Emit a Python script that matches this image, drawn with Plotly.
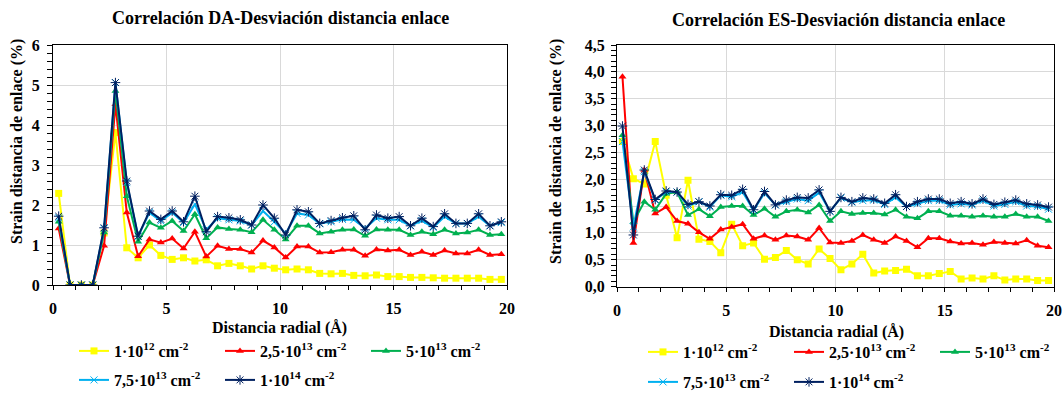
import plotly.graph_objects as go

radial = [0.25, 0.75, 1.25, 1.75, 2.25, 2.75, 3.25, 3.75, 4.25, 4.75,
          5.25, 5.75, 6.25, 6.75, 7.25, 7.75, 8.25, 8.75, 9.25, 9.75,
          10.25, 10.75, 11.25, 11.75, 12.25, 12.75, 13.25, 13.75, 14.25, 14.75,
          15.25, 15.75, 16.25, 16.75, 17.25, 17.75, 18.25, 18.75, 19.25, 19.75]

series_names = ["1·10<sup>12</sup> cm<sup>-2</sup>",
                "2,5·10<sup>13</sup> cm<sup>-2</sup>",
                "5·10<sup>13</sup> cm<sup>-2</sup>",
                "7,5·10<sup>13</sup> cm<sup>-2</sup>",
                "1·10<sup>14</sup> cm<sup>-2</sup>"]

# Left chart: Correlación DA
da_1e12 = [2.29, 0, 0, 0, 1.30, 3.81, 0.93, 0.68, 1.00, 0.74,
           0.64, 0.68, 0.60, 0.63, 0.48, 0.54, 0.48, 0.40, 0.48, 0.42,
           0.38, 0.40, 0.38, 0.29, 0.28, 0.29, 0.24, 0.23, 0.25, 0.21,
           0.21, 0.19, 0.19, 0.18, 0.17, 0.17, 0.17, 0.17, 0.14, 0.14]
da_25e13 = [1.41, 0, 0, 0, 0.98, 4.52, 1.81, 0.72, 1.14, 1.06,
            1.16, 0.91, 1.33, 0.71, 0.98, 0.90, 0.90, 0.81, 1.11, 0.94,
            0.69, 0.96, 0.96, 0.81, 0.82, 0.88, 0.88, 0.73, 0.89, 0.86,
            0.88, 0.75, 0.83, 0.75, 0.86, 0.79, 0.79, 0.88, 0.75, 0.77]
da_5e13 = [1.58, 0, 0, 0, 1.31, 4.85, 2.22, 1.08, 1.56, 1.43,
           1.60, 1.35, 1.77, 1.17, 1.44, 1.40, 1.38, 1.32, 1.63, 1.38,
           1.14, 1.48, 1.48, 1.29, 1.33, 1.38, 1.39, 1.23, 1.39, 1.38,
           1.38, 1.25, 1.33, 1.27, 1.38, 1.29, 1.31, 1.38, 1.25, 1.27]
da_75e13 = [1.68, 0, 0, 0, 1.41, 5.06, 2.56, 1.22, 1.81, 1.60,
            1.81, 1.56, 2.02, 1.38, 1.67, 1.63, 1.60, 1.50, 1.85, 1.58,
            1.29, 1.79, 1.75, 1.53, 1.58, 1.64, 1.63, 1.42, 1.67, 1.63,
            1.63, 1.48, 1.61, 1.44, 1.71, 1.54, 1.54, 1.71, 1.48, 1.56]
da_1e14 = [1.72, 0, 0, 0, 1.43, 5.06, 2.60, 1.22, 1.85, 1.64,
           1.85, 1.58, 2.22, 1.33, 1.71, 1.68, 1.63, 1.50, 2.00, 1.67,
           1.25, 1.88, 1.83, 1.54, 1.61, 1.68, 1.73, 1.38, 1.75, 1.67,
           1.71, 1.48, 1.67, 1.46, 1.78, 1.54, 1.54, 1.78, 1.48, 1.58]

# Right chart: Correlación ES
es_1e12 = [2.70, 2.01, 1.91, 2.70, 1.70, 0.91, 1.98, 0.88, 0.84, 0.63,
           1.16, 0.76, 0.81, 0.51, 0.54, 0.67, 0.50, 0.42, 0.70, 0.52,
           0.31, 0.42, 0.60, 0.25, 0.29, 0.30, 0.32, 0.20, 0.20, 0.24,
           0.28, 0.14, 0.16, 0.14, 0.20, 0.12, 0.14, 0.14, 0.11, 0.11]
es_25e13 = [3.91, 0.81, 2.17, 1.36, 1.48, 1.22, 1.17, 1.01, 0.89, 1.06,
            1.11, 1.16, 0.89, 0.95, 0.87, 0.95, 0.93, 0.87, 1.09, 0.82,
            0.81, 0.85, 0.96, 0.87, 0.81, 0.93, 0.85, 0.73, 0.90, 0.90,
            0.84, 0.80, 0.81, 0.78, 0.83, 0.81, 0.80, 0.86, 0.76, 0.73]
es_5e13 = [2.82, 1.20, 1.58, 1.43, 1.73, 1.76, 1.33, 1.44, 1.31, 1.48,
           1.50, 1.50, 1.33, 1.45, 1.30, 1.40, 1.43, 1.38, 1.52, 1.22,
           1.40, 1.35, 1.37, 1.37, 1.34, 1.43, 1.30, 1.27, 1.40, 1.40,
           1.32, 1.32, 1.30, 1.32, 1.30, 1.30, 1.35, 1.30, 1.30, 1.22]
es_75e13 = [2.70, 1.11, 2.14, 1.61, 1.76, 1.76, 1.50, 1.58, 1.48, 1.70,
            1.67, 1.76, 1.42, 1.74, 1.52, 1.58, 1.63, 1.60, 1.75, 1.40,
            1.65, 1.57, 1.60, 1.61, 1.53, 1.66, 1.49, 1.54, 1.60, 1.60,
            1.52, 1.54, 1.52, 1.60, 1.50, 1.53, 1.58, 1.50, 1.49, 1.44]
es_1e14 = [2.99, 0.96, 2.17, 1.62, 1.78, 1.76, 1.53, 1.58, 1.50, 1.71,
           1.70, 1.81, 1.43, 1.77, 1.52, 1.61, 1.66, 1.65, 1.80, 1.40,
           1.66, 1.58, 1.65, 1.63, 1.55, 1.71, 1.49, 1.58, 1.63, 1.63,
           1.55, 1.58, 1.54, 1.63, 1.53, 1.57, 1.61, 1.54, 1.52, 1.48]

left_ticks = [0, 1, 2, 3, 4, 5, 6]
right_ticks = [0.0, 0.5, 1.0, 1.5, 2.0, 2.5, 3.0, 3.5, 4.0, 4.5]
right_ticktext = ["0,0", "0,5", "1,0", "1,5", "2,0", "2,5", "3,0", "3,5", "4,0", "4,5"]
x_ticks = [0, 5, 10, 15, 20]

colors = ["#FFFF00", "#FF0000", "#00B050", "#00B0F0", "#002060"]
symbols = ["square", "triangle-up", "triangle-up", "x-thin-open", "asterisk-open"]
msizes = [7, 7, 7, 7, 8]

FONT = "Liberation Serif"
W, H = 1064, 394

fig = go.Figure()

left_data = [da_1e12, da_25e13, da_5e13, da_75e13, da_1e14]
right_data = [es_1e12, es_25e13, es_5e13, es_75e13, es_1e14]

def marker(i):
    m = dict(symbol=symbols[i], size=msizes[i], color=colors[i])
    if symbols[i].endswith("open"):
        m["line"] = dict(color=colors[i], width=1)
    else:
        m["line"] = dict(width=0)
    return m

for i in range(5):
    fig.add_trace(go.Scatter(
        x=radial, y=left_data[i], mode="lines+markers", name=series_names[i],
        line=dict(color=colors[i], width=2), marker=marker(i),
        xaxis="x", yaxis="y", legend="legend" if i < 3 else "legend2"))
for i in range(5):
    fig.add_trace(go.Scatter(
        x=radial, y=right_data[i], mode="lines+markers", name=series_names[i],
        line=dict(color=colors[i], width=2), marker=marker(i),
        xaxis="x2", yaxis="y2", legend="legend3" if i < 3 else "legend4"))

tickfont = dict(family=FONT, size=16, color="black", weight="bold")
common_x = dict(range=[0, 20], tickvals=x_ticks, showgrid=True, gridcolor="#d9d9d9", gridwidth=1,
                showline=True, linecolor="black", linewidth=1, mirror=True,
                ticks="outside", ticklen=4, tickcolor="black", tickfont=tickfont,
                minor=dict(dtick=1, ticks="outside", ticklen=4, tickcolor="black", showgrid=False),
                zeroline=False, ticklabelstandoff=5, automargin=False)
common_y = dict(showgrid=True, gridcolor="#d9d9d9", gridwidth=1,
                showline=True, linecolor="black", linewidth=1, mirror=True,
                ticks="outside", ticklen=5, tickcolor="black", tickfont=tickfont,
                zeroline=False, automargin=False)

def px_x(p):
    return p / W

def px_y(p):
    return 1 - p / H

legend_font = dict(family=FONT, size=16, color="black", weight="bold")
def leg(xp, yp):
    return dict(orientation="h", x=px_x(xp), y=px_y(yp), xanchor="left", yanchor="middle",
                font=legend_font, bgcolor="rgba(0,0,0,0)", entrywidth=101,
                entrywidthmode="pixels", itemwidth=30, tracegroupgap=0)

fig.update_layout(
    width=W, height=H, margin=dict(l=0, r=0, t=0, b=0, autoexpand=False),
    plot_bgcolor="white", paper_bgcolor="white",
    showlegend=True,
    xaxis=dict(domain=[px_x(53), px_x(507)], anchor="y", **common_x),
    yaxis=dict(domain=[px_y(285), px_y(45)], anchor="x", range=[0, 6], tickvals=left_ticks,
               minor=dict(dtick=0.2, ticks="outside", ticklen=5, tickcolor="black", showgrid=False),
               ticklabelstandoff=4, **common_y),
    xaxis2=dict(domain=[px_x(617), px_x(1054)], anchor="y2", **common_x),
    yaxis2=dict(domain=[px_y(286.5), px_y(45)], anchor="x2", range=[0, 4.5], tickvals=right_ticks,
                ticktext=right_ticktext,
                minor=dict(dtick=0.1, ticks="outside", ticklen=5, tickcolor="black", showgrid=False),
                ticklabelstandoff=3, **common_y),
    legend=leg(74, 351),
    legend2=leg(74, 380),
    legend3=leg(643, 352),
    legend4=leg(643, 382),
)

anno_font = dict(family=FONT, size=18, color="black", weight="bold")
axis_font = dict(family=FONT, size=16, color="black", weight="bold")
annos = [
    dict(text="Correlación DA-Desviación distancia enlace", x=px_x(280), y=px_y(18), font=anno_font),
    dict(text="Correlación ES-Desviación distancia enlace", x=px_x(838), y=px_y(20), font=anno_font),
    dict(text="Strain distancia de enlace (%)", x=px_x(17), y=px_y(142), font=axis_font, textangle=-90),
    dict(text="Strain de distancia de enlace (%)", x=px_x(556), y=px_y(152), font=axis_font, textangle=-90),
    dict(text="Distancia radial (Å)", x=px_x(279), y=px_y(328), font=axis_font),
    dict(text="Distancia radial (Å)", x=px_x(836), y=px_y(332), font=axis_font),
]
for a in annos:
    fig.add_annotation(xref="paper", yref="paper", showarrow=False, xanchor="center", yanchor="middle", **a)

fig.write_html("out.html")
